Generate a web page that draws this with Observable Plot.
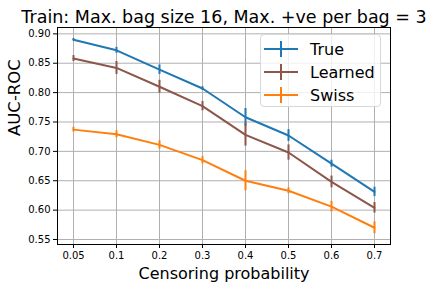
<!DOCTYPE html>
<html>
<head>
<meta charset="utf-8">
<script src="https://cdn.jsdelivr.net/npm/d3@7"></script>
<script src="https://cdn.jsdelivr.net/npm/@observablehq/plot@0.6"></script>
<style>
  body { margin: 0; background: #fff; font-family: "DejaVu Sans", sans-serif; }
  #wrap { position: relative; width: 427px; height: 287px; }
  #legend { position: absolute; left: 260px; top: 34px; width: 121px; height: 73px;
    border: 1px solid #d8d8d8; border-radius: 4px; background: rgba(255,255,255,0.8); box-sizing: border-box; }
  .item { position: absolute; left: 3px; height: 20px; display: flex; align-items: center; font-size: 16px; color: #000; }
  .item svg { margin-right: 12px; }
</style>
</head>
<body>
<div id="wrap"></div>
<script>
const cats = ["0.05", "0.1", "0.2", "0.3", "0.4", "0.5", "0.6", "0.7"];
const seriesNames = ["True", "Learned", "Swiss"];
const seriesColors = ["#1f77b4", "#8c564b", "#ff7f0e"];
const trueV = [0.890, 0.872, 0.839, 0.807, 0.758, 0.727, 0.679, 0.631];
const trueE = [0.002, 0.005, 0.008, 0.003, 0.015, 0.010, 0.006, 0.008];
const learnedV = [0.858, 0.842, 0.810, 0.777, 0.728, 0.698, 0.648, 0.604];
const learnedE = [0.005, 0.011, 0.011, 0.008, 0.019, 0.013, 0.010, 0.009];
const swissV = [0.737, 0.729, 0.711, 0.685, 0.650, 0.633, 0.606, 0.570];
const swissE = [0.004, 0.006, 0.007, 0.006, 0.017, 0.005, 0.009, 0.010];
const yTicks = [0.55, 0.60, 0.65, 0.70, 0.75, 0.80, 0.85, 0.90];

const vals = [trueV, learnedV, swissV];
const errs = [trueE, learnedE, swissE];
const data = [];
seriesNames.forEach((s, i) => cats.forEach((c, j) => data.push({series: s, p: c, v: vals[i][j], e: errs[i][j]})));

const plot = Plot.plot({
  width: 427, height: 287,
  marginLeft: 57, marginRight: 37, marginTop: 27, marginBottom: 43,
  style: {fontFamily: "DejaVu Sans, sans-serif", fontSize: "10px", color: "#000", background: "#fff"},
  x: {type: "point", domain: cats, padding: 0.35, label: null},
  y: {domain: [0.5415, 0.9108], label: null},
  color: {domain: seriesNames, range: seriesColors},
  marks: [
    Plot.gridX(cats, {stroke: "#b0b0b0", strokeOpacity: 1, strokeWidth: 1}),
    Plot.gridY(yTicks, {stroke: "#b0b0b0", strokeOpacity: 1, strokeWidth: 1}),
    Plot.axisX({tickSize: 4, tickPadding: 3, label: null, fontSize: 10}),
    Plot.axisY({ticks: yTicks, tickSize: 4, tickPadding: 3, tickFormat: d3.format(".2f"), label: null, fontSize: 10}),
    Plot.line(data, {x: "p", y: "v", z: "series", stroke: "series", strokeWidth: 2}),
    Plot.ruleX(data, {x: "p", y1: d => d.v - d.e, y2: d => d.v + d.e, stroke: "series", strokeWidth: 2}),
    Plot.frame({stroke: "#000", strokeWidth: 1}),
    Plot.text(["Train: Max. bag size 16, Max. +ve per bag = 3"], {frameAnchor: "top", dy: -5, fontSize: 17.5, fill: "#000", lineAnchor: "bottom", text: d => d}),
    Plot.text(["Censoring probability"], {frameAnchor: "bottom", dy: 34, fontSize: 16, fill: "#000", lineAnchor: "bottom", text: d => d}),
    Plot.text(["AUC-ROC"], {frameAnchor: "left", dx: -43, rotate: -90, fontSize: 16.5, fill: "#000", text: d => d})
  ]
});
const wrap = document.getElementById("wrap");
wrap.appendChild(plot);

const legend = document.createElement("div");
legend.id = "legend";
seriesNames.forEach((s, i) => {
  const it = document.createElement("div");
  it.className = "item";
  it.style.top = (4 + i * 23) + "px";
  it.innerHTML = `<svg width="34" height="18"><line x1="0" x2="34" y1="9" y2="9" stroke="${seriesColors[i]}" stroke-width="2"/><line x1="17" x2="17" y1="1" y2="17" stroke="${seriesColors[i]}" stroke-width="2"/></svg>${s}`;
  legend.appendChild(it);
});
wrap.appendChild(legend);
</script>
</body>
</html>
